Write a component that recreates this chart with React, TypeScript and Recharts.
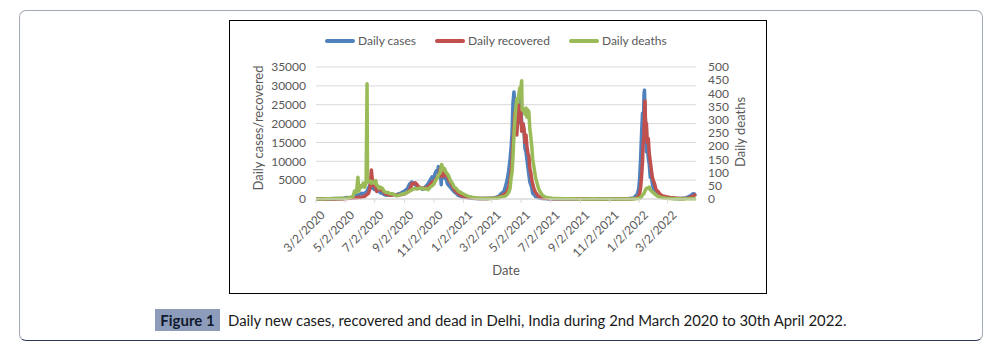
import { LineChart, Line, XAxis, YAxis, CartesianGrid } from 'recharts';

// day offsets from 3/2/2020
const days = [
  0, 7, 14, 21, 28, 35, 42, 49, 56, 63, 70, 77, 80, 84, 87, 89, 92, 95, 98, 101,
  104, 106, 107, 109, 112, 113, 115, 117, 119, 121, 124, 126, 128, 131, 134, 138, 141, 145, 149, 154,
  159, 164, 168, 173, 178, 182, 186, 190, 194, 198, 199, 202, 206, 210, 213, 217, 221, 225, 229, 233,
  237, 241, 244, 247, 250, 253, 254, 256, 258, 260, 261, 263, 265, 267, 270, 273, 276, 279, 283, 287,
  291, 295, 300, 305, 310, 317, 324, 331, 338, 345, 352, 359, 366, 373, 380, 385, 390, 394, 397, 400,
  403, 405, 407, 409, 411, 413, 415, 417, 419, 421, 423, 425, 427, 428, 430, 432, 434, 436, 438, 440,
  442, 444, 446, 448, 450, 453, 456, 459, 462, 466, 470, 475, 482, 490, 500, 515, 530, 545, 560, 575,
  590, 605, 620, 635, 648, 655, 660, 664, 667, 670, 672, 674, 676, 678, 679, 680, 681, 682, 683, 684,
  685, 686, 688, 690, 692, 694, 696, 698, 700, 703, 706, 710, 715, 720, 727, 735, 745, 755, 762, 768,
  774, 779, 783, 787, 789,
];

const dailyCases = [
  1, 1, 5, 10, 30, 90, 150, 100, 140, 380, 330, 500, 660, 990, 1100, 1020, 1300, 1500, 1300, 1500,
  1850, 1860, 2400, 2900, 3600, 3947, 3500, 2900, 3400, 2500, 2500, 2200, 2200, 2100, 1600, 1600, 1200, 1000, 1100, 1000,
  1200, 1100, 1200, 1400, 1700, 2000, 2300, 2800, 3900, 4400, 4470, 4200, 3800, 3200, 2800, 2900, 2600, 2900, 3500, 4100,
  5000, 5900, 5000, 6700, 7500, 7050, 8593, 7000, 7340, 3800, 7400, 6600, 6600, 5500, 5400, 4000, 3500, 3100, 2500, 1900,
  1500, 1000, 800, 600, 500, 300, 200, 150, 130, 150, 150, 200, 200, 400, 800, 1500, 1900, 3600, 5100, 7400,
  10700, 13500, 17300, 25500, 28395, 24600, 26100, 24100, 25000, 20200, 27000, 25200, 20400, 18000, 19900, 17400, 13300, 12500, 10400, 8500,
  6400, 4500, 3800, 3000, 1500, 1100, 650, 500, 380, 200, 150, 100, 80, 60, 60, 50, 40, 40, 30, 40,
  30, 40, 40, 50, 80, 200, 300, 900, 1300, 2700, 5500, 10665, 17335, 22751, 19166, 21259, 27561, 28867, 24383, 20718,
  18286, 12527, 13785, 10756, 9197, 5760, 7498, 4300, 3000, 2200, 1400, 1100, 700, 500, 400, 300, 150, 150, 200, 300,
  600, 1000, 1400, 1300, 1500,
];

const dailyRecovered = [
  0, 0, 1, 2, 5, 10, 20, 40, 80, 150, 200, 250, 300, 350, 400, 500, 400, 500, 600, 700,
  1000, 1200, 1300, 1500, 2800, 4500, 7700, 5000, 3500, 3500, 3200, 2000, 3400, 2600, 2400, 2500, 1800, 1300, 1200, 1000,
  1100, 1100, 1000, 1100, 1200, 1300, 1500, 1800, 2400, 3500, 4100, 4000, 4300, 3800, 3200, 3000, 2800, 2900, 3000, 3300,
  3700, 4500, 4000, 5000, 5500, 6000, 6300, 6500, 8000, 6400, 6000, 6000, 7800, 6200, 7000, 6000, 5000, 4500, 3500, 2500,
  2000, 1500, 1000, 800, 600, 400, 300, 200, 150, 130, 130, 150, 180, 250, 500, 800, 1200, 1500, 2000, 3000,
  5000, 7000, 10000, 15000, 19000, 23000, 21000, 17000, 22000, 25000, 24000, 23500, 18000, 19000, 20000, 18500, 15000, 17000, 14000, 12000,
  11500, 8000, 7000, 5000, 4000, 2500, 1700, 1200, 700, 450, 300, 200, 100, 80, 60, 60, 50, 40, 30, 40,
  30, 30, 30, 40, 40, 50, 100, 300, 400, 700, 1500, 3000, 6000, 10000, 14000, 15500, 17000, 22000, 26000, 21000,
  19000, 20000, 15000, 16000, 12000, 10000, 8000, 6000, 5000, 4000, 2500, 2000, 1200, 800, 600, 400, 250, 150, 150, 200,
  300, 500, 800, 1100, 1200,
];

const dailyDeaths = [
  0, 0, 0, 1, 1, 2, 2, 3, 2, 3, 5, 10, 30, 25, 82, 30, 50, 45, 60, 45,
  60, 437, 70, 65, 67, 68, 60, 65, 64, 60, 70, 50, 50, 40, 45, 40, 30, 25, 25, 20,
  20, 15, 12, 15, 18, 20, 22, 25, 30, 33, 35, 38, 40, 38, 40, 42, 40, 37, 40, 35,
  45, 50, 55, 65, 75, 85, 90, 95, 100, 121, 131, 118, 110, 115, 100, 95, 85, 70, 60, 45,
  40, 30, 25, 20, 15, 10, 7, 5, 3, 2, 2, 2, 3, 3, 5, 8, 10, 12, 18, 25,
  40, 80, 100, 160, 240, 300, 350, 380, 365, 395, 420, 412, 448, 338, 335, 341, 320, 345, 310, 337,
  330, 265, 235, 200, 150, 115, 80, 60, 40, 25, 15, 8, 5, 3, 2, 1, 1, 0, 0, 1,
  0, 0, 0, 0, 0, 0, 1, 1, 2, 2, 3, 5, 10, 15, 17, 20, 20, 25, 30, 35,
  38, 40, 42, 40, 45, 35, 30, 28, 24, 20, 15, 10, 7, 5, 3, 2, 1, 1, 0, 1,
  1, 1, 2, 1, 2,
];

const dateTicks = [0, 61, 122, 184, 245, 306, 365, 426, 487, 549, 610, 671, 730];
const dateLabels = [
  '3/2/2020', '5/2/2020', '7/2/2020', '9/2/2020', '11/2/2020', '1/2/2021', '3/2/2021',
  '5/2/2021', '7/2/2021', '9/2/2021', '11/2/2021', '1/2/2022', '3/2/2022',
];
const leftTicks = [0, 5000, 10000, 15000, 20000, 25000, 30000, 35000];
const rightTicks = [0, 50, 100, 150, 200, 250, 300, 350, 400, 450, 500];

const COLORS = { cases: '#4f81bd', recovered: '#c0504d', deaths: '#9bbb59' };
const FONT = 'Lato, "Open Sans", sans-serif';
const TEXT = '#595959';

const data = days.map((d, i) => ({
  day: d,
  cases: dailyCases[i],
  recovered: dailyRecovered[i],
  deaths: dailyDeaths[i],
}));

const DateTick = ({ x, y, payload }: any) => {
  const idx = dateTicks.indexOf(payload.value);
  return (
    <text
      x={x + 3}
      y={y + 4}
      transform={`rotate(-45, ${x + 3}, ${y + 4})`}
      textAnchor="end"
      dominantBaseline="hanging"
      fontSize={12}
      fill={TEXT}
      fontFamily={FONT}
    >
      {idx >= 0 ? dateLabels[idx] : ''}
    </text>
  );
};

const SideLabel = ({ viewBox, value, dx, dy }: any) => {
  const cx = viewBox.x + dx;
  const cy = viewBox.y + viewBox.height / 2 + dy;
  return (
    <text
      x={cx}
      y={cy}
      transform={`rotate(-90, ${cx}, ${cy})`}
      textAnchor="middle"
      dominantBaseline="central"
      fontSize={13}
      fill={TEXT}
      fontFamily={FONT}
    >
      {value}
    </text>
  );
};

const legendItems = [
  { label: 'Daily cases', color: COLORS.cases },
  { label: 'Daily recovered', color: COLORS.recovered },
  { label: 'Daily deaths', color: COLORS.deaths },
];

export default function App() {
  return (
    <div
      style={{
        position: 'absolute',
        left: 0,
        top: 0,
        width: 1004,
        height: 353,
        background: '#fff',
        fontFamily: FONT,
      }}
    >
      {/* outer figure frame */}
      <div
        style={{
          position: 'absolute',
          left: 19,
          top: 10,
          width: 962,
          height: 329,
          border: '1.5px solid #a3aab8',
          borderBottomColor: '#2c3a58',
          borderRadius: 7,
        }}
      />
      {/* chart box */}
      <div
        style={{
          position: 'absolute',
          left: 229,
          top: 20,
          width: 536,
          height: 272,
          border: '1px solid #000',
        }}
      >
        <div
          style={{
            position: 'absolute',
            top: 12,
            left: 95,
            display: 'flex',
            alignItems: 'center',
            fontSize: 12,
            color: TEXT,
          }}
        >
          {legendItems.map((it) => (
            <div key={it.label} style={{ display: 'flex', alignItems: 'center', marginRight: 19 }}>
              <span
                style={{
                  display: 'inline-block',
                  width: 30,
                  height: 4,
                  borderRadius: 2,
                  background: it.color,
                  marginRight: 3,
                }}
              />
              {it.label}
            </div>
          ))}
        </div>
        <LineChart
          width={536}
          height={272}
          data={data}
          margin={{ top: 46, right: 0, bottom: 0, left: -1 }}
          style={{ position: 'absolute', left: 0, top: 0 }}
        >
          <CartesianGrid yAxisId="left" vertical={false} stroke="#d9d9d9" />
          <XAxis
            dataKey="day"
            type="number"
            domain={[0, 789]}
            ticks={dateTicks}
            interval={0}
            height={94}
            stroke="#d9d9d9"
            tickSize={4}
            tick={<DateTick />}
            label={{
              value: 'Date',
              position: 'insideBottom',
              offset: 18,
              fontSize: 13,
              fill: TEXT,
              fontFamily: FONT,
            }}
          />
          <YAxis
            yAxisId="left"
            width={87}
            domain={[0, 35000]}
            ticks={leftTicks}
            interval={0}
            axisLine={false}
            tickLine={false}
            tickSize={0}
            tickMargin={10}
            tick={{ fontSize: 12, fill: TEXT, fontFamily: FONT }}
            label={<SideLabel value="Daily cases/recovered" dx={29} dy={-5} />}
          />
          <YAxis
            yAxisId="right"
            orientation="right"
            width={70}
            domain={[0, 500]}
            ticks={rightTicks}
            interval={0}
            axisLine={false}
            tickLine={false}
            tickSize={0}
            tickMargin={12}
            tick={{ fontSize: 12, fill: TEXT, fontFamily: FONT }}
            label={<SideLabel value="Daily deaths" dx={44} dy={-1} />}
          />
          <Line
            yAxisId="left"
            type="linear"
            dataKey="cases"
            stroke={COLORS.cases}
            strokeWidth={3.5}
            strokeLinejoin="round"
            dot={false}
            isAnimationActive={false}
          />
          <Line
            yAxisId="left"
            type="linear"
            dataKey="recovered"
            stroke={COLORS.recovered}
            strokeWidth={3.5}
            strokeLinejoin="round"
            dot={false}
            isAnimationActive={false}
          />
          <Line
            yAxisId="right"
            type="linear"
            dataKey="deaths"
            stroke={COLORS.deaths}
            strokeWidth={3.5}
            strokeLinejoin="round"
            dot={false}
            isAnimationActive={false}
          />
        </LineChart>
      </div>
      {/* caption */}
      <div
        style={{
          position: 'absolute',
          left: 155,
          top: 309,
          width: 65,
          height: 22,
          background: '#8e9cbc',
          display: 'flex',
          alignItems: 'center',
          justifyContent: 'center',
          fontWeight: 700,
          fontSize: 15,
          color: '#111a2e',
        }}
      >
        Figure 1
      </div>
      <div
        style={{
          position: 'absolute',
          left: 228,
          top: 309,
          height: 22,
          display: 'flex',
          alignItems: 'center',
          fontSize: 14.9,
          color: '#1a1a1a',
          whiteSpace: 'nowrap',
        }}
      >
        Daily new cases, recovered and dead in Delhi, India during 2nd March 2020 to 30th April 2022.
      </div>
    </div>
  );
}
